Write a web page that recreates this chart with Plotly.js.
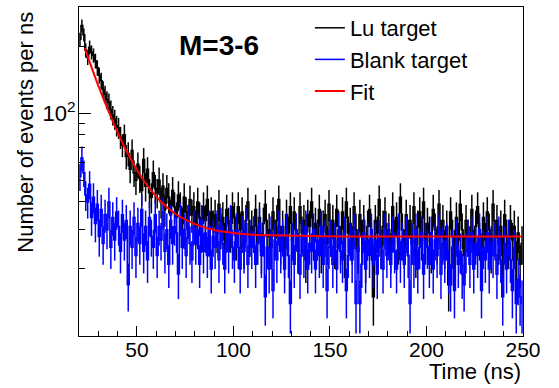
<!DOCTYPE html>
<html>
<head>
<meta charset="utf-8">
<script src="https://cdn.plot.ly/plotly-3.0.1.min.js"></script>
<style>html,body{margin:0;padding:0;background:#fff}#chart{width:559px;height:388px}</style>
</head>
<body>
<div id="chart"></div>
<script>
// Bin lower edges (ns), 1 ns bins from 20 to 249
const binStart = 20;
const luTarget = [
  215,248,225,192,178,198,188,182,172,160,
  148,140,128,122,115,112,104,98,94,88,
  86,78,72,80,64,66,56,68,54,50,
  59,51,45,62,47,56,44,42,54,46,
  44,50,40,47,37,46,42,35,45,38,
  34,43,38,32,42,36,33,41,35,38,
  31,40,34,29,38,33,41,28,36,31,
  35,29,39,30,34,27,37,32,29,38,
  34,27,38,30,36,25,33,40,28,31,
  29,37,26,34,24,32,39,28,30,25,
  36,28,33,41,26,31,23,35,29,38,
  27,36,30,24,38,29,33,22,35,31,
  40,27,32,28,37,24,31,35,26,39,
  28,33,25,37,31,26,36,23,40,29,
  32,26,38,30,24,35,28,33,22,31,
  37,27,15,33,29,41,25,31,36,27,
  30,24,38,28,34,26,42,30,25,35,
  28,33,26,38,23,31,36,27,40,26,
  32,29,24,37,30,26,39,28,33,25,
  31,17,36,28,25,34,27,39,30,23,
  33,28,26,37,25,31,38,27,24,34,
  27,36,30,24,39,28,33,26,31,23,
  35,28,25,33,27,31,22,29,21,26
];
const blankTarget = [
  52,63,54,43,40,48,34,42,32,39,
  28,37,26,35,30,40,25,34,27,36,
  31,24,35,27,33,17,31,25,34,23,
  32,26,37,24,31,22,34,28,25,35,
  23,31,27,36,24,30,21,33,26,31,
  29,19,34,25,30,23,33,26,22,31,
  26,30,21,33,24,29,23,31,20,28,
  25,31,22,32,26,20,29,24,33,25,
  22,30,25,20,29,24,32,21,28,25,
  29,21,26,32,23,28,15,25,20,29,
  16,27,22,31,24,28,20,30,23,14,
  27,21,30,24,19,28,23,31,20,26,
  24,30,20,27,23,31,21,28,16,25,
  28,21,27,20,30,24,22,29,16,23,
  27,22,30,14,25,14,21,29,20,27,
  23,30,21,27,19,28,25,20,30,23,
  27,21,29,24,20,30,22,27,21,29,
  23,14,27,21,30,20,25,29,19,27,
  25,21,29,20,27,23,30,19,26,22,
  27,20,17,25,16,28,21,24,19,17,
  24,28,21,29,20,26,23,30,16,25,
  22,29,20,26,23,27,19,29,22,15,
  26,20,28,22,16,25,14,18,15,14
];
// Fit curve
const fitTime  = [23, 25, 30, 35, 40, 45, 50, 55, 60, 65, 70, 80, 90, 100, 110, 120, 140, 160, 200, 249];
const fitValue = [196, 175, 133, 103.5, 82, 66.7, 55.8, 47.9, 42.3, 38.2, 35.3, 31.8, 29.9, 29, 28.5, 28.3, 28.1, 28, 28, 28];

const xTicks = [50, 100, 150, 200, 250];
const xMinor = [30, 40, 60, 70, 80, 90, 110, 120, 130, 140, 160, 170, 180, 190, 210, 220, 230, 240];
const yTicks = [100];
const yTickText = ['10<sup>2</sup>'];
const yMinor = [20, 30, 40, 50, 60, 70, 80, 90, 200];

const FONT = 'Liberation Sans, Arial, Helvetica, sans-serif';
const centers = luTarget.map((_, i) => binStart + i + 0.5);

function histTrace(vals, name, color) {
  return {
    type: 'scatter', mode: 'lines', name: name,
    x: centers, y: vals,
    line: {color: color, width: 1.5, shape: 'hvh'},
    error_y: {type: 'data', array: vals.map(v => Math.sqrt(v)), visible: true,
              color: color, thickness: 1.5, width: 0}
  };
}

const data = [
  histTrace(luTarget, 'Lu target', '#000000'),
  histTrace(blankTarget, 'Blank target', '#0000ff'),
  {type: 'scatter', mode: 'lines', name: 'Fit', x: fitTime, y: fitValue,
   line: {color: '#ff0000', width: 2, shape: 'spline', smoothing: 1}}
];

const layout = {
  width: 559, height: 388,
  margin: {l: 79, r: 36, t: 7, b: 52},
  paper_bgcolor: '#fff', plot_bgcolor: '#fff',
  font: {family: FONT, color: '#000'},
  showlegend: true,
  legend: {x: 0.52, y: 1.0, xanchor: 'left', yanchor: 'top',
           font: {family: FONT, size: 22, color: '#000'},
           bgcolor: 'rgba(0,0,0,0)', tracegroupgap: 0},
  xaxis: {
    range: [20, 250], tickmode: 'array', tickvals: xTicks,
    ticks: 'inside', ticklen: 10, tickcolor: '#000', tickwidth: 1,
    ticklabelstandoff: -5,
    minor: {tickmode: 'array', tickvals: xMinor, ticks: 'inside', ticklen: 5, tickcolor: '#000', tickwidth: 1},
    showgrid: false, zeroline: false, showline: true, linecolor: '#000', linewidth: 1, mirror: true,
    tickfont: {family: FONT, size: 21, color: '#000'}
  },
  yaxis: {
    type: 'log', range: [1, Math.log10(300)],
    tickmode: 'array', tickvals: yTicks, ticktext: yTickText,
    ticks: 'inside', ticklen: 12, tickcolor: '#000', tickwidth: 1,
    ticklabelstandoff: -2,
    minor: {tickmode: 'array', tickvals: yMinor, ticks: 'inside', ticklen: 6, tickcolor: '#000', tickwidth: 1},
    showgrid: false, zeroline: false, showline: true, linecolor: '#000', linewidth: 1, mirror: true,
    tickfont: {family: FONT, size: 22, color: '#000'}
  },
  annotations: [
    {text: '<b>M=3-6</b>', xref: 'paper', yref: 'paper', x: 0.316, y: 0.882,
     xanchor: 'center', yanchor: 'middle', showarrow: false,
     font: {family: FONT, size: 28, color: '#000'}},
    {text: 'Number of events per ns', xref: 'paper', yref: 'paper', x: -0.1223, y: 0.62,
     xanchor: 'center', yanchor: 'middle', textangle: -90, showarrow: false,
     font: {family: FONT, size: 22, color: '#000'}},
    {text: 'Time (ns)', xref: 'paper', yref: 'paper', x: 1, y: -0.109,
     xanchor: 'right', yanchor: 'middle', showarrow: false,
     font: {family: FONT, size: 22, color: '#000'}}
  ]
};

Plotly.newPlot('chart', data, layout, {staticPlot: true, displayModeBar: false});
</script>
</body>
</html>
